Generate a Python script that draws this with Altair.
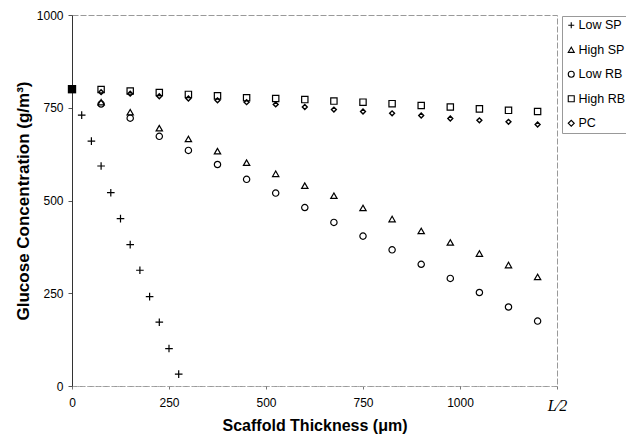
import altair as alt
import pandas as pd

# ---- data ----
series_names = ["Low SP", "High SP", "Low RB", "High RB", "PC"]

low_sp_x = [25, 50, 75, 100, 125, 150, 175, 200, 225, 250, 275]
low_sp_y = [730, 660, 593, 521, 451, 381, 312, 241, 172, 101, 32]

thick_x = [75, 150, 225, 300, 375, 450, 525, 600, 675, 750, 825, 900, 975, 1050, 1125, 1200]
high_sp_y = [765, 738, 695, 666, 633, 602, 572, 540, 513, 480, 450, 418, 387, 357, 326, 294]
low_rb_y = [760, 722, 673, 635, 597, 557, 520, 481, 441, 404, 367, 328, 290, 252, 213, 175]
high_rb_y = [799, 795, 791, 786, 782, 777, 775, 772, 768, 765, 761, 756, 752, 747, 743, 740]
pc_y = [792, 788, 781, 775, 770, 765, 759, 752, 745, 740, 735, 729, 721, 716, 712, 705]

start_x = [0]
start_y = [800]

x_ticks = [0, 250, 500, 750, 1000, 1250]
y_ticks = [0, 250, 500, 750, 1000]

rows = []
for x, y in zip(low_sp_x, low_sp_y):
    rows.append({"x": x, "y": y, "s": "Low SP"})
for name, ys in [("High SP", high_sp_y), ("Low RB", low_rb_y), ("High RB", high_rb_y), ("PC", pc_y)]:
    for x, y in zip(thick_x, ys):
        rows.append({"x": x, "y": y, "s": name})
df = pd.DataFrame(rows)
start_df = pd.DataFrame({"x": start_x, "y": start_y})

FONT = "Liberation Sans"

xscale = alt.Scale(domain=[0, 1250], nice=False, zero=False)
yscale = alt.Scale(domain=[0, 1000], nice=False)

x_axis = alt.Axis(
    values=x_ticks,
    grid=False,
    title="Scaffold Thickness (μm)",
    titleFont=FONT, titleFontSize=16, titleFontWeight="bold", titleColor="black",
    titleY=44, titleBaseline="alphabetic",
    labelFont={"condition": {"test": "datum.value == 1250", "value": "Liberation Serif"}, "value": FONT},
    labelFontSize={"condition": {"test": "datum.value == 1250", "value": 16}, "value": 12},
    labelFontStyle={"condition": {"test": "datum.value == 1250", "value": "italic"}, "value": "normal"},
    labelExpr="datum.value == 1250 ? 'L⁄2' : datum.label",
    labelColor="black", labelPadding=8, labelFlush=False,
    format="d",
    domainColor="#aaaaaa", domainDash=[2, 3], domainWidth=1,
    tickColor="#777777", tickSize=3, tickWidth=1,
)
y_axis = alt.Axis(
    values=y_ticks,
    grid=False,
    title="Glucose Concentration (g/m³)",
    titleFont=FONT, titleFontSize=17, titleFontWeight="bold", titleColor="black",
    titlePadding=4,
    labelFont=FONT, labelFontSize=12, labelColor="black", labelPadding=5,
    format="d",
    domainColor="#333333", domainWidth=1,
    tickColor="#555555", tickSize=4, tickWidth=1,
)

plus_path = "M-1,0L1,0M0,-1L0,1"

shape_scale = alt.Scale(domain=series_names,
                        range=[plus_path, "triangle-up", "circle", "square", "diamond"])
legend_def = alt.Legend(
    title=None, orient="none", legendX=490, legendY=1,
    labelFont=FONT, labelFontSize=12.5, labelColor="black",
    symbolStrokeColor="black", symbolFillColor="transparent",
    symbolStrokeWidth=1.1, symbolOffset=0, symbolSize=36,
    rowPadding=11.5, labelOffset=1,
    strokeColor="#999999", padding=3,
)

base = alt.Chart(df).encode(
    x=alt.X("x:Q", scale=xscale, axis=x_axis),
    y=alt.Y("y:Q", scale=yscale, axis=y_axis),
    shape=alt.Shape("s:N", scale=shape_scale, legend=legend_def),
)

plus_layer = base.transform_filter("datum.s == 'Low SP'").mark_point(
    filled=False, color="black", strokeWidth=1.2, opacity=1, size=58)
mid_layer = base.transform_filter("datum.s == 'High SP' || datum.s == 'Low RB' || datum.s == 'High RB'").mark_point(
    filled=False, color="black", strokeWidth=1.2, opacity=1, size=40)
pc_layer = base.transform_filter("datum.s == 'PC'").mark_point(
    filled=False, color="black", strokeWidth=1.4, opacity=1, size=24)

start = alt.Chart(start_df).mark_point(shape="square", filled=True, color="black", size=70, opacity=1).encode(
    x=alt.X("x:Q", scale=xscale),
    y=alt.Y("y:Q", scale=yscale),
)

chart = (
    alt.layer(plus_layer, mid_layer, pc_layer, start)
    .properties(
        width=485,
        height=371,
        autosize=alt.AutoSizeParams(type="none"),
        padding={"left": 64, "top": 7, "right": 69, "bottom": 48},
        background="white",
    )
    .configure_view(stroke="#999999", strokeWidth=1, strokeDash=[6, 2])
)

chart.save("out.html", embed_options={"renderer": "svg", "actions": False})
